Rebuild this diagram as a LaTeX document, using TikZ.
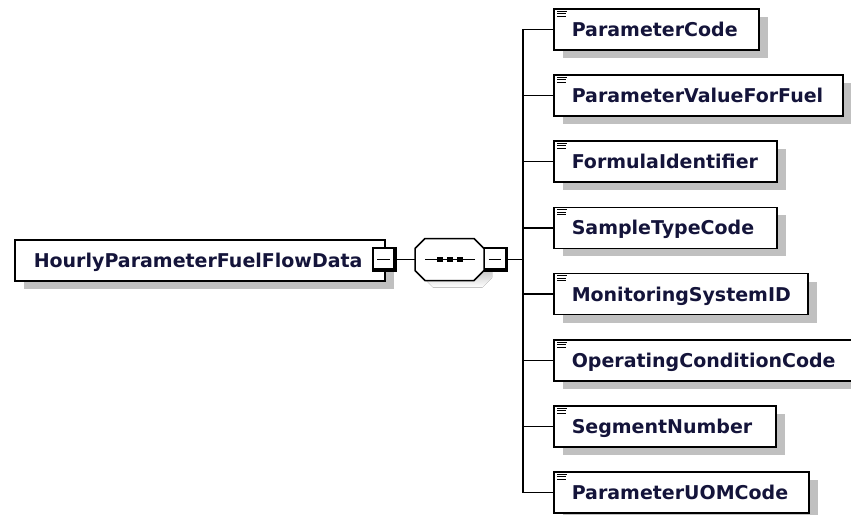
\documentclass[tikz,border=0pt]{standalone}
\usepackage{fontspec}
\setmainfont{DejaVu Sans}
\usetikzlibrary{shadows}
\definecolor{shade}{HTML}{C0C0C0}
\definecolor{ink}{HTML}{14143A}
\begin{document}
\begin{tikzpicture}[x=1pt,y=-1pt,
  elbox/.style={draw=black, line width=1.5pt, fill=white, minimum height=41pt,
    inner sep=0pt, anchor=north west, align=left, text=ink,
    font=\fontsize{19}{22}\selectfont\bfseries,
    text height=14pt, text depth=0pt,
    drop shadow={shadow xshift=9pt, shadow yshift=-8pt, fill=shade, opacity=1}},
  sqbox/.style={draw=black, line width=1.8pt, fill=white, minimum size=23pt, inner sep=0pt},
  thick edge/.style={draw=black, line width=3.5pt},
  minus/.style={draw=black, line width=1.5pt},
  conn/.style={draw=black, line width=1.5pt},
  icon/.style={draw=black, line width=1pt}]
\useasboundingbox (0,0) rectangle (851,514);

% main element
\node[elbox, text width=370pt] (m) at (14,239) {\noindent\hspace*{19pt}HourlyParameterFuelFlowData};
\node[sqbox] (s1) at (384.5,259.5) {};
\draw[thick edge] ([xshift=-1.75pt]s1.north east) -- ([xshift=-1.75pt,yshift=1.75pt]s1.south east) -- ([yshift=1.75pt]s1.south west);
\draw[minus] ([xshift=5pt]s1.west) -- ([xshift=-7pt]s1.east);

% sequence compositor
\coordinate (ow) at (415,259.5);
\coordinate (oe) at (484,259.5);
\fill[shade] (433,246.5) -- (482,246.5) -- (492,256.5) -- (492,277.5) -- (482,287.5) -- (433,287.5) -- (423,277.5) -- (423,256.5) -- cycle;
\draw[fill=white, line width=1.5pt] (425,238.5) -- (474,238.5) -- (484,248.5) -- (484,270.5) -- (474,280.5) -- (425,280.5) -- (415,270.5) -- (415,248.5) -- cycle;
\draw[line width=1.3pt] (425,259.5) -- (475,259.5);
\foreach \cx in {440,450,460} \fill[black] (\cx-3,257) rectangle (\cx+3,262);
\node[sqbox] (s2) at (496,259.5) {};
\draw[thick edge] ([xshift=-1.75pt]s2.north east) -- ([xshift=-1.75pt,yshift=1.75pt]s2.south east) -- ([yshift=1.75pt]s2.south west);
\draw[minus] ([xshift=5pt]s2.west) -- ([xshift=-7pt]s2.east);

\draw[conn] (s1.east) -- (ow);
\coordinate (br) at (523,259.5);
\draw[conn] (s2.east) -- (br);

% child elements
\node[elbox, text width=205pt] (c1) at (553,8)     {\noindent\hspace*{18pt}ParameterCode};
\node[elbox, text width=289pt] (c2) at (553,74.2)  {\noindent\hspace*{18pt}ParameterValueForFuel};
\node[elbox, text width=223pt] (c3) at (553,140.4) {\noindent\hspace*{18pt}FormulaIdentifier};
\node[elbox, text width=223pt] (c4) at (553,206.6) {\noindent\hspace*{18pt}SampleTypeCode};
\node[elbox, text width=254pt] (c5) at (553,272.8) {\noindent\hspace*{18pt}MonitoringSystemID};
\node[elbox, text width=310pt] (c6) at (553,339)   {\noindent\hspace*{18pt}OperatingConditionCode};
\node[elbox, text width=222pt] (c7) at (553,405.2) {\noindent\hspace*{18pt}SegmentNumber};
\node[elbox, text width=255pt] (c8) at (553,471.4) {\noindent\hspace*{18pt}ParameterUOMCode};

\draw[conn] (br |- c1.west) -- (br |- c8.west);
\foreach \c in {c1,c2,c3,c4,c5,c6,c7,c8} {
  \draw[conn] (br |- \c.west) -- (\c.west);
  \draw[icon] ([xshift=4pt,yshift=-3pt]\c.north west) -- ++(10,0);
  \draw[icon] ([xshift=4pt,yshift=-5.5pt]\c.north west) -- ++(9,0);
  \draw[icon] ([xshift=4pt,yshift=-8pt]\c.north west) -- ++(9,0);
}
\end{tikzpicture}
\end{document}
